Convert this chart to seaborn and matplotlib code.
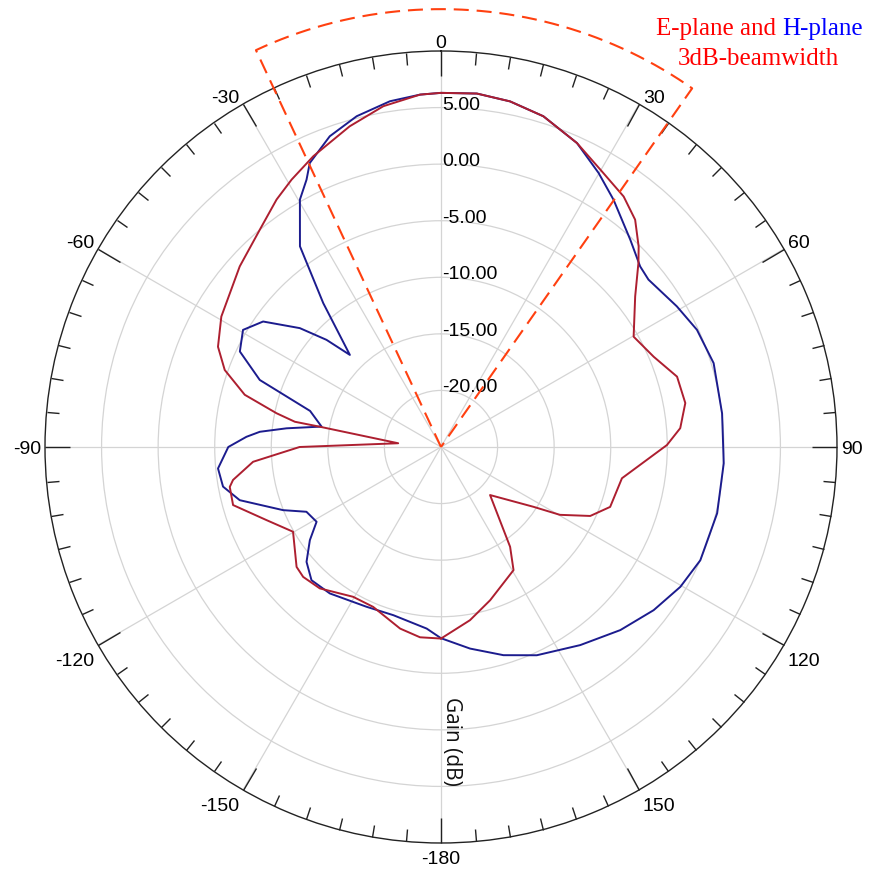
import numpy as np
import pandas as pd
import matplotlib
matplotlib.use("Agg")
import matplotlib.pyplot as plt
import seaborn as sns

# E-plane gain pattern (deg, dB)
theta_e = [-180, -173.7, -167.3, -157, -149.6, -139.4, -133.3, -129.7, -119.8, -112.7,
           -105.6, -100.7, -99, -94.5, -90, -85, -80.5, -80.2, -78.4, -75.1,
           -70.4, -65.8, -59.3, -48.1, -39.8, -33.6, -29.2, -23.7, -15.9, -9.6,
           -3.4, 0, 5.8, 11.3, 17.2, 24.1, 29.9, 36.1, 40.5, 44.6,
           47.0, 52.2, 60.2, 67, 73.4, 79.8, 85.5, 89.5, 99.8, 109.5,
           114.8, 119.7, 122.9, 134.4, 145.3, 149.5, 162.2, 170.5, 180]
gain_e = [-8.07, -8.08, -8.55, -9.65, -9.65, -8.54, -8.26, -8.41, -9.93, -8.27,
          -5.92, -6.0, -6.39, -8.34, -12.5, -21.2, -14.14, -11.89, -10.16, -7.05,
          -4.71, -3.39, -2.42, -1.1, 0.01, 1.26, 2.07, 3.07, 4.47, 5.55,
          6.2, 6.3, 6.4, 6.15, 5.6, 4.43, 3.27, 2.4, 1.42, -0.12,
          -1.14, -3.28, -5.38, -4.58, -3.23, -3.06, -3.79, -5.03, -8.77, -9.14,
          -10.47, -12.9, -15.27, -18.93, -14.27, -12.37, -10.78, -9.48, -8.07]

# H-plane gain pattern (deg, dB)
theta_h = [-180, -175.5, -164.2, -155, -142.8, -135.8, -130.5, -125.4, -121, -115.7,
           -111.8, -104.8, -100.3, -95.5, -90, -87, -85.2, -83.1, -80.3, -74.6,
           -69.7, -64.6, -59.4, -54.8, -49.9, -46.9, -44.7, -39.3, -35.1, -29.7,
           -26.7, -24.8, -19.7, -14.3, -8.4, -3.4, 0, 5.8, 11.3, 17.2,
           24.1, 29.9, 34.9, 42.4, 47.8, 51.1, 59.2, 65.4, 72.9, 83.2,
           93.3, 103.5, 113.6, 120.3, 127.5, 135.6, 144.9, 155.3, 163.3, 171.8, 180]
gain_h = [-8.1, -8.9, -9.55, -9.42, -8.75, -8.58, -9.37, -10.78, -12.17, -11.8,
          -9.97, -6.6, -5.42, -5.2, -6.2, -7.78, -8.93, -11.25, -14.29, -13.0,
          -7.92, -5.32, -4.67, -5.76, -8.69, -11.14, -13.55, -8.57, -3.32, 0.17,
          1.45, 2.65, 4.17, 5.17, 5.89, 6.2, 6.3, 6.4, 6.15, 5.6,
          4.43, 2.94, 1.65, -0.19, -1.24, -1.44, -0.73, -0.12, 0.21, 0.02,
          0.03, 0.1, 0.01, -0.5, -1.31, -2.35, -3.6, -4.74, -5.79, -7.0, -8.1]

# angular tick labels (clockwise from top) and radial ring values
angle_ticks = [0, 30, 60, 90, 120, 150, 180, 210, 240, 270, 300, 330]
angle_labels = ["0", "30", "60", "90", "120", "150", "-180", "-150", "-120", "-90", "-60", "-30"]
ring_values = [-20, -15, -10, -5, 0, 5]
r_min, r_max = -25, 10

# 3dB beamwidth sector
sector_start, sector_end, sector_radius = -25, 35, 13.7

sns.set_theme(style="white")
plt.rcParams["font.family"] = ["Liberation Sans", "DejaVu Sans"]

fig = plt.figure(figsize=(8.7, 8.73), dpi=100)
ax = fig.add_axes([45 / 870, 30 / 873, 792 / 870, 792 / 873], projection="polar")
ax.set_theta_zero_location("N")
ax.set_theta_direction(-1)
ax.set_rlim(r_min, r_max)

df_e = pd.DataFrame({"theta": np.deg2rad(theta_e), "gain": gain_e})
df_h = pd.DataFrame({"theta": np.deg2rad(theta_h), "gain": gain_h})
sns.lineplot(data=df_h, x="theta", y="gain", ax=ax, sort=False, estimator=None,
             color="#1c1c8e", linewidth=1.4)
sns.lineplot(data=df_e, x="theta", y="gain", ax=ax, sort=False, estimator=None,
             color="#ad1f30", linewidth=1.4)
ax.set_xlabel("")
ax.set_ylabel("")

# grid and outer tick marks
ax.set_xticks(np.deg2rad(angle_ticks))
ax.set_xticklabels([])
ax.set_xticks(np.deg2rad(np.arange(0, 360, 5)), minor=True)
ax.set_yticks(ring_values)
ax.set_yticklabels([])
ax.grid(True, which="major", color="#d4d4d4", linewidth=0.9)
ax.tick_params(axis="x", which="both", bottom=False, top=True, labelbottom=False,
               labeltop=False, direction="in", width=1, color="#222222")
ax.tick_params(axis="x", which="major", length=18)
ax.tick_params(axis="x", which="minor", length=9)
ax.spines["polar"].set_color("#222222")
ax.spines["polar"].set_linewidth(1)

# angle labels just outside the rim, anchored by their nearest corner
for a, lab in zip(angle_ticks, angle_labels):
    s, c = np.sin(np.deg2rad(a)), np.cos(np.deg2rad(a))
    if abs(s) < 0.01:
        ha, dx = "center", 0
    else:
        ha, dx = ("left", 4) if s > 0 else ("right", -4)
    if abs(c) < 0.01:
        va, dy = "center", -3
    elif c > 0:
        va, dy = "baseline", 3 if abs(s) < 0.01 else 1
    else:
        va, dy = "top", -8
    ax.annotate(lab, xy=(np.deg2rad(a), r_max), xytext=(dx, dy),
                textcoords="offset pixels", ha=ha, va=va, fontsize=14,
                color="black", annotation_clip=False)

# radial value labels along the 0-degree spoke
for v in ring_values:
    ax.annotate(f"{v:.2f}", xy=(0, v), xytext=(1, -2), textcoords="offset pixels",
                ha="left", va="baseline", fontsize=14, color="black", zorder=5)

# beamwidth sector outline
arc = np.deg2rad(np.linspace(sector_start, sector_end, 200))
sec_t = np.concatenate([[np.deg2rad(sector_start)], arc, [np.deg2rad(sector_end)]])
sec_r = np.concatenate([[r_min], np.full(arc.size, sector_radius), [r_min]])
ax.plot(sec_t, sec_r, color="#ff4010", linewidth=1.5, linestyle=(0, (7.2, 3.8)),
        clip_on=False, zorder=6)

# axis title
fig.text(452 / 870, 1 - 741 / 873, "Gain (dB)", rotation=270, ha="center", va="center",
         fontsize=15, family=["Open Sans", "DejaVu Sans"], color="#111111")

# beamwidth caption
serif = ["Liberation Serif", "DejaVu Serif"]
t1 = fig.text(656 / 870, 1 - 35 / 873, "E-plane and", ha="left", va="baseline",
              fontsize=18, family=serif, color="#ff0000")
fig.text(758 / 870, 1 - 65 / 873, "3dB-beamwidth", ha="center", va="baseline",
         fontsize=18, family=serif, color="#ff0000")
plt.annotate("H-plane", xy=(1, 0), xycoords=t1, xytext=(4.8, 0), textcoords="offset points",
             ha="left", va="bottom", fontsize=18, family=serif, color="#0000ff")

fig.savefig("out.png", dpi=100)
